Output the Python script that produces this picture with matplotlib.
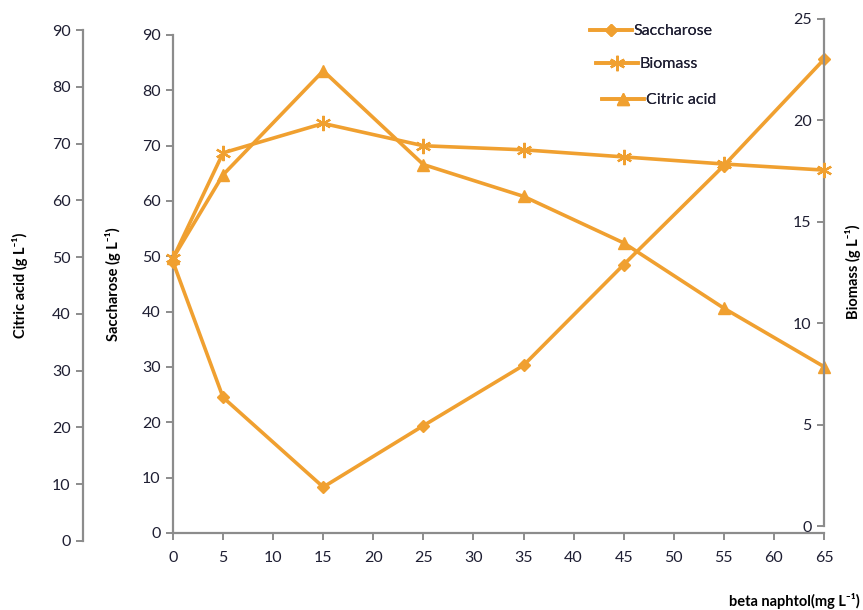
import matplotlib
matplotlib.use("Agg")
import matplotlib.pyplot as plt
from matplotlib.lines import Line2D

plt.rcParams['font.family'] = ['Lato', 'DejaVu Sans']

# ---- data ----
x_vals = [0, 5, 15, 25, 35, 45, 55, 65]
saccharose = [49.0, 24.5, 8.3, 19.4, 30.3, 48.5, 66.4, 85.6]
biomass = [13.2, 18.4, 19.85, 18.75, 18.55, 18.2, 17.85, 17.55]
citric_acid = [49.8, 64.5, 82.8, 66.3, 60.7, 52.5, 41.0, 30.7]
x_ticks = list(range(0, 70, 5))
left_ticks = list(range(0, 100, 10))
bio_ticks = list(range(0, 30, 5))

W, H = 863, 610
color = '#F0A030'
spine_c = '#8c8c8c'
tick_c = '#1f1f33'

fig = plt.figure(figsize=(W / 100, H / 100), dpi=100)
fig.patch.set_facecolor('white')


def rect(l, r, t, b):
    return [l / W, (H - b) / H, (r - l) / W, (b - t) / H]


# x mapping: 0 at px 173, 65 at px 824
x0_px, x65_px = 173, 824
def xlim_for(left_px, right_px):
    scale = 65 / (x65_px - x0_px)
    return (left_px - x0_px) * scale, (right_px - x0_px) * scale

# Citric acid axes (outer left)
axc = fig.add_axes(rect(83, 824, 30, 541))
axc.set_xlim(*xlim_for(83, 824))
axc.set_ylim(0, 90)
# Saccharose (main)
ax = fig.add_axes(rect(173, 824, 35, 533))
ax.set_xlim(0, 65)
ax.set_ylim(0, 90)
ax.patch.set_alpha(0)
# Biomass (right)
axb = fig.add_axes(rect(173, 824, 19, 526))
axb.set_xlim(0, 65)
axb.set_ylim(0, 25)
axb.patch.set_alpha(0)

for a in (axc, ax, axb):
    for s in a.spines.values():
        s.set_visible(False)
        s.set_color(spine_c)
        s.set_linewidth(1.6)

tick_fs = 11.5

# citric axis: left spine only
axc.spines['left'].set_visible(True)
axc.set_xticks([])
axc.set_yticks(left_ticks)
axc.tick_params(axis='y', direction='out', length=5, width=1.4, color=spine_c,
                labelsize=tick_fs, labelcolor=tick_c, pad=4)

ax.spines['left'].set_visible(True)
ax.spines['bottom'].set_visible(True)
ax.set_yticks(left_ticks)
ax.set_xticks(x_ticks)
ax.tick_params(axis='both', direction='out', length=5, width=1.4, color=spine_c,
               labelsize=tick_fs, labelcolor=tick_c)
ax.tick_params(axis='x', pad=8)
ax.tick_params(axis='y', pad=4)

axb.spines['right'].set_visible(True)
axb.set_xticks([])
axb.yaxis.tick_right()
axb.set_yticks(bio_ticks)
axb.tick_params(axis='y', direction='in', length=5, width=1.4, color=spine_c,
                labelsize=tick_fs, labelcolor=tick_c, pad=-9, left=False)
for lbl in axb.get_yticklabels():
    lbl.set_horizontalalignment('right')

lw = 2.6
l1, = ax.plot(x_vals, saccharose, color=color, lw=lw, marker='D', ms=6.5,
              clip_on=False, zorder=5)
l2, = axb.plot(x_vals, biomass, color=color, lw=lw, marker=(6, 2, 0), ms=11,
               mew=1.6, clip_on=False, zorder=5)
l3, = axc.plot(x_vals, citric_acid, color=color, lw=lw, marker='^', ms=9,
               clip_on=False, zorder=5)

# axis labels
lab_kw = dict(fontsize=10.5, fontweight='bold', color='black', rotation=90,
              ha='center', va='center')
fig.text(20 / W, 1 - 285 / H, 'Citric acid (g L⁻¹)', **lab_kw)
fig.text(113 / W, 1 - 284 / H, 'Saccharose (g L⁻¹)', **lab_kw)
fig.text(853 / W, 1 - 272 / H, 'Biomass (g L⁻¹)', **lab_kw)
fig.text(860 / W, 1 - 601 / H, 'beta naphtol(mg L⁻¹)', fontsize=10.5,
         fontweight='bold', color='black', ha='right', va='center')

# legends (staggered like the reference)
def add_leg(handle, label, lx, ly):
    lg = fig.legend([handle], [label], loc='center left',
                    bbox_to_anchor=(lx / W, 1 - ly / H), frameon=False,
                    fontsize=11.5, handlelength=2.6, handletextpad=0.15,
                    borderpad=0, borderaxespad=0, labelcolor=tick_c)
    fig.add_artist(lg)

add_leg(Line2D([], [], color=color, lw=lw, marker='D', ms=6.5), 'Saccharose', 590, 31)
add_leg(Line2D([], [], color=color, lw=lw, marker=(6, 2, 0), ms=11, mew=1.6), 'Biomass', 596, 64)
add_leg(Line2D([], [], color=color, lw=lw, marker='^', ms=9), 'Citric acid', 602, 100)

fig.savefig('out.png', dpi=100, facecolor='white')
